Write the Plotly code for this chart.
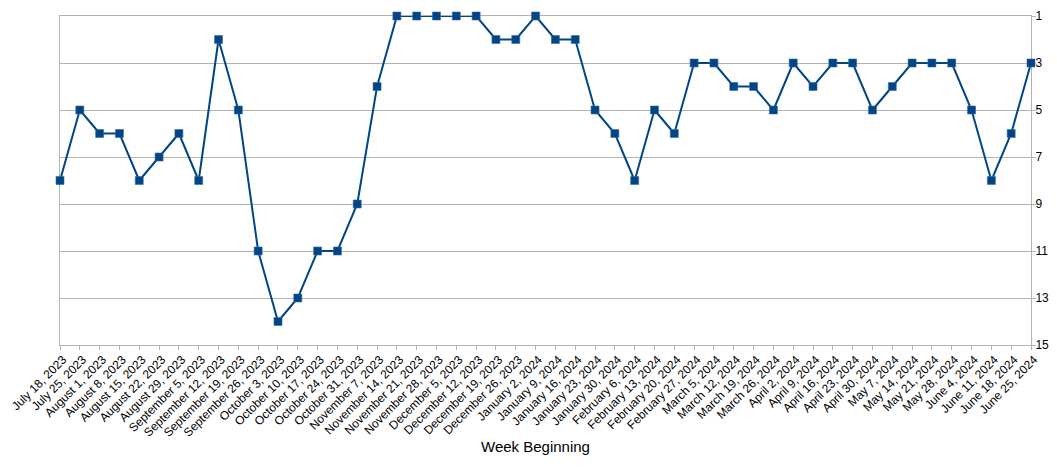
import plotly.graph_objects as go

weeks = [
    "July 18, 2023", "July 25, 2023", "August 1, 2023", "August 8, 2023",
    "August 15, 2023", "August 22, 2023", "August 29, 2023", "September 5, 2023",
    "September 12, 2023", "September 19, 2023", "September 26, 2023",
    "October 3, 2023", "October 10, 2023", "October 17, 2023", "October 24, 2023",
    "October 31, 2023", "November 7, 2023", "November 14, 2023",
    "November 21, 2023", "November 28, 2023", "December 5, 2023",
    "December 12, 2023", "December 19, 2023", "December 26, 2023",
    "January 2, 2024", "January 9, 2024", "January 16, 2024", "January 23, 2024",
    "January 30, 2024", "February 6, 2024", "February 13, 2024",
    "February 20, 2024", "February 27, 2024", "March 5, 2024", "March 12, 2024",
    "March 19, 2024", "March 26, 2024", "April 2, 2024", "April 9, 2024",
    "April 16, 2024", "April 23, 2024", "April 30, 2024", "May 7, 2024",
    "May 14, 2024", "May 21, 2024", "May 28, 2024", "June 4, 2024",
    "June 11, 2024", "June 18, 2024", "June 25, 2024",
]
rank = [
    8, 5, 6, 6, 8, 7, 6, 8, 2, 5,
    11, 14, 13, 11, 11, 9, 4, 1, 1, 1,
    1, 1, 2, 2, 1, 2, 2, 5, 6, 8,
    5, 6, 3, 3, 4, 4, 5, 3, 4, 3,
    3, 5, 4, 3, 3, 3, 5, 8, 6, 3,
]
y_ticks = [1, 3, 5, 7, 9, 11, 13, 15]

blue = "#004586"
grey = "#b3b3b3"

fig = go.Figure()
fig.add_trace(go.Scatter(
    x=weeks, y=rank, mode="lines+markers",
    line=dict(color=blue, width=2),
    marker=dict(symbol="square", size=8, color=blue,
                line=dict(color="#3a6a9c", width=0.6)),
    cliponaxis=False, showlegend=False,
))

# page body has an 8px margin, so the figure is 16px smaller than the window
fig.update_layout(
    width=1041, height=457,
    margin=dict(l=52, r=18, t=8, b=120),
    plot_bgcolor="white", paper_bgcolor="white",
    font=dict(family="Liberation Sans, Arial, sans-serif", size=12, color="#000000"),
)
fig.update_xaxes(
    type="category", range=[0, len(weeks) - 1],
    tickangle=-45, tickfont=dict(size=12), automargin=False,
    ticks="outside", ticklen=4, tickcolor=grey,
    ticklabelstandoff=-2, ticklabelshift=3,
    showgrid=False, showline=True, linecolor=grey, mirror=True,
    layer="below traces",
)
fig.update_yaxes(
    range=[15, 1], side="right", automargin=False,
    tickvals=y_ticks, tickfont=dict(size=12),
    ticks="outside", ticklen=4, tickcolor=grey, ticklabelstandoff=-3,
    showgrid=True, gridcolor=grey, zeroline=False,
    showline=True, linecolor=grey, mirror=True,
    layer="below traces",
)

# axis title as annotation so it sits where the original puts it
fig.add_annotation(
    text="Week Beginning", xref="paper", yref="paper",
    x=0.49, y=-0.3085, xanchor="center", yanchor="middle",
    showarrow=False, font=dict(size=15),
)

fig.write_html("out.html")
